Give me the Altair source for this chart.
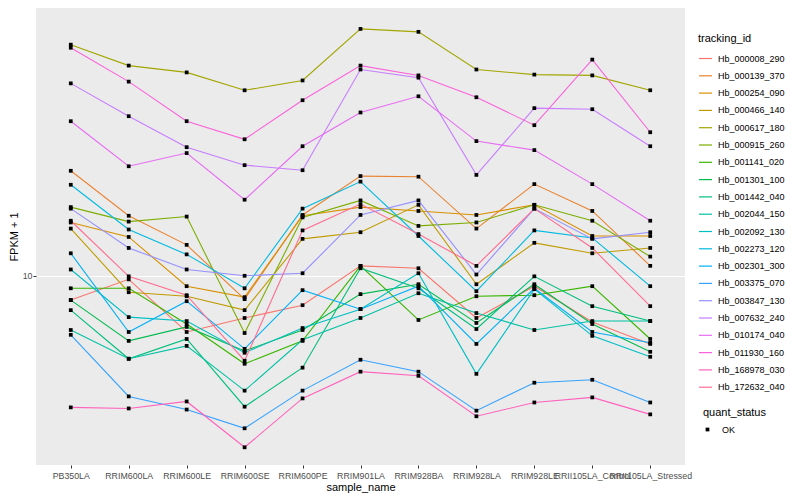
import altair as alt
import pandas as pd

samples = ["PB350LA", "RRIM600LA", "RRIM600LE", "RRIM600SE", "RRIM600PE",
           "RRIM901LA", "RRIM928BA", "RRIM928LA", "RRIM928LE",
           "RRII105LA_Control", "RRII105LA_Stressed"]

ids = ["Hb_000008_290", "Hb_000139_370", "Hb_000254_090", "Hb_000466_140",
       "Hb_000617_180", "Hb_000915_260", "Hb_001141_020", "Hb_001301_100",
       "Hb_001442_040", "Hb_002044_150", "Hb_002092_130", "Hb_002273_120",
       "Hb_002301_300", "Hb_003375_070", "Hb_003847_130", "Hb_007632_240",
       "Hb_010174_040", "Hb_011930_160", "Hb_168978_030", "Hb_172632_040"]

colors = ["#F8766D", "#EA8331", "#D89000", "#C09B00", "#A3A500", "#7CAE00",
          "#39B600", "#00BB4E", "#00BF7D", "#00C1A3", "#00BFC4", "#00BAE0",
          "#00B0F6", "#35A2FF", "#9590FF", "#C77CFF", "#E76BF3", "#FA62DB",
          "#FF62BC", "#FF6C91"]

# FPKM + 1 per sample, in sample order
Hb_000008_290 = [8.29, 9.73, 6.48, 7.22, 7.97, 10.8, 10.6, 7.22, 9.23, 7.00, 5.91]
Hb_000139_370 = [22.5, 15.9, 12.7, 8.35, 16.0, 21.6, 21.5, 14.4, 20.3, 16.5, 10.8]
Hb_000254_090 = [15.1, 13.5, 9.23, 8.48, 15.9, 17.0, 16.5, 16.0, 17.3, 13.6, 13.6]
Hb_000466_140 = [14.4, 8.81, 8.54, 7.67, 13.3, 14.0, 17.3, 9.37, 12.9, 11.9, 12.4]
Hb_000617_180 = [59.6, 50.7, 48.1, 41.9, 45.2, 67.3, 65.8, 49.2, 47.3, 47.0, 41.9]
Hb_000915_260 = [17.0, 15.2, 15.8, 6.43, 15.7, 17.9, 14.7, 15.1, 17.3, 15.3, 11.6]
Hb_001141_020 = [9.08, 9.08, 6.89, 5.07, 6.05, 10.8, 7.11, 8.54, 8.61, 9.23, 6.14]
Hb_001301_100 = [8.29, 6.05, 6.74, 5.60, 6.58, 8.68, 9.37, 6.95, 9.37, 6.89, 5.56]
Hb_001442_040 = [7.67, 5.27, 6.14, 3.64, 4.92, 10.6, 9.08, 6.63, 9.96, 7.91, 7.05]
Hb_002044_150 = [6.58, 5.27, 5.82, 4.12, 6.10, 7.22, 8.74, 7.50, 6.58, 7.05, 7.05]
Hb_002092_130 = [10.5, 7.27, 7.05, 5.52, 6.68, 7.73, 10.2, 4.69, 9.02, 6.29, 5.35]
Hb_002273_120 = [20.2, 14.3, 11.8, 9.08, 16.8, 20.7, 13.6, 8.88, 14.2, 13.4, 9.23]
Hb_002301_300 = [11.9, 6.48, 8.22, 5.69, 8.95, 7.73, 9.23, 5.91, 9.08, 6.48, 5.96]
Hb_003375_070 = [6.34, 3.94, 3.56, 3.08, 4.12, 5.23, 4.77, 3.53, 4.38, 4.48, 3.76]
Hb_003847_130 = [16.8, 12.4, 10.5, 10.0, 10.2, 16.0, 17.9, 10.1, 16.8, 13.3, 14.0]
Hb_007632_240 = [44.2, 34.3, 27.0, 23.5, 22.6, 49.2, 46.2, 21.8, 36.5, 36.2, 27.2]
Hb_010174_040 = [33.0, 23.3, 25.8, 18.0, 27.2, 35.3, 40.0, 28.3, 26.4, 20.3, 15.3]
Hb_011930_160 = [58.2, 44.8, 33.0, 28.7, 38.8, 50.7, 47.0, 39.7, 32.0, 53.1, 30.3]
Hb_168978_030 = [3.62, 3.59, 3.79, 2.66, 3.88, 4.77, 4.62, 3.38, 3.76, 3.91, 3.43]
Hb_172632_040 = [15.3, 9.96, 8.61, 5.19, 14.2, 17.4, 13.8, 10.8, 16.8, 12.4, 7.91]

series = [Hb_000008_290, Hb_000139_370, Hb_000254_090, Hb_000466_140,
          Hb_000617_180, Hb_000915_260, Hb_001141_020, Hb_001301_100,
          Hb_001442_040, Hb_002044_150, Hb_002092_130, Hb_002273_120,
          Hb_002301_300, Hb_003375_070, Hb_003847_130, Hb_007632_240,
          Hb_010174_040, Hb_011930_160, Hb_168978_030, Hb_172632_040]

rows = []
for tid, vals in zip(ids, series):
    for s, v in zip(samples, vals):
        rows.append({"tracking_id": tid, "sample_name": s, "fpkm": v,
                     "quant_status": "OK"})
df = pd.DataFrame(rows)

FONT = "Liberation Sans"

x_enc = alt.X("sample_name:N", sort=samples,
              scale=alt.Scale(domain=samples, padding=0.6),
              axis=alt.Axis(title="sample_name", labelAngle=0,
                            labelOverlap=False, labelBound=False,
                            labelPadding=3, titlePadding=2))
y_enc = alt.Y("fpkm:Q",
              scale=alt.Scale(type="log", domain=[2.32, 79.1], nice=False,
                              zero=False),
              axis=alt.Axis(title="FPKM + 1", values=[10], format="d",
                            labelPadding=1, titlePadding=3))

base = alt.Chart(df)

lines = base.mark_line(strokeWidth=1.1).encode(
    x=x_enc, y=y_enc,
    color=alt.Color("tracking_id:N",
                    scale=alt.Scale(domain=ids, range=colors),
                    legend=alt.Legend(title="tracking_id", orient="none",
                                      legendX=662, legendY=25,
                                      symbolType="stroke", symbolSize=169,
                                      symbolStrokeWidth=1.2,
                                      rowPadding=4.3, labelOffset=5,
                                      labelFontSize=9,
                                      titlePadding=7)),
    order=alt.Order("tracking_id:N"),
)

points = base.mark_point(filled=True, size=14, opacity=1,
                         color="black").encode(
    x=x_enc, y=y_enc,
    shape=alt.Shape("quant_status:N",
                    scale=alt.Scale(domain=["OK"], range=["square"]),
                    legend=alt.Legend(title="quant_status", orient="none",
                                      legendX=667, legendY=399,
                                      symbolFillColor="black",
                                      symbolStrokeColor="black",
                                      symbolSize=14, labelOffset=10,
                                      labelFontSize=9,
                                      titlePadding=7)),
)

chart = alt.layer(lines, points).properties(
    width=649, height=457,
    padding={"left": 0, "top": 0, "right": 0, "bottom": 0},
).configure_view(
    fill="#EBEBEB", stroke=None
).configure_axis(
    gridColor="white", gridWidth=1.1, domain=False,
    tickColor="#333333", tickSize=3, tickWidth=1,
    labelColor="#4D4D4D", labelFontSize=8.8, labelFont=FONT,
    titleFont=FONT, titleFontSize=11, titleFontWeight="normal",
    titleColor="black",
).configure_legend(
    labelFont=FONT, labelFontSize=9, labelColor="black",
    titleFont=FONT, titleFontSize=11, titleFontWeight="normal",
    titleColor="black",
)

chart.save("out.html", embed_options={"renderer": "svg", "actions": False})
